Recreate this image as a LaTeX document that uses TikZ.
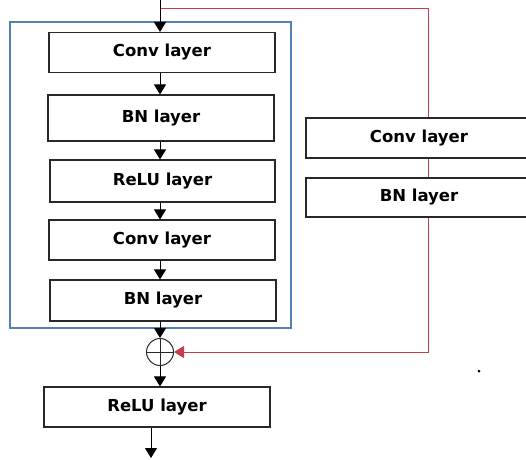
\documentclass[tikz,border=0pt]{standalone}
\usepackage{fontspec}
\setmainfont{DejaVu Sans}
\usetikzlibrary{arrows.meta}
\definecolor{frameblue}{RGB}{84,128,186}
\definecolor{skipred}{RGB}{196,62,74}
\definecolor{boxline}{RGB}{40,40,40}
\tikzset{
  layerbox/.style={draw=boxline, line width=1.1pt, fill=white, minimum height=40pt,
    minimum width=226pt, inner sep=0pt, font=\bfseries\fontsize{16.5}{18}\selectfont},
  tip/.style={-{Triangle[length=10pt,width=12pt]}},
  flow/.style={line width=1pt, tip},
  skip/.style={draw=skipred, line width=1pt},
}
\begin{document}
\begin{tikzpicture}[x=1pt,y=-1pt]
\useasboundingbox (0,0) rectangle (526,459);

% residual block frame
\draw[frameblue, line width=1.4pt] (10,22) rectangle (291,328);

% shortcut path corners
\coordinate (tap) at (160,8);
\coordinate (tr) at (428,8);
\coordinate (br) at (428,352);

% side branch layers
\node[layerbox] (sconv) at (419,138) {Conv layer};
\node[layerbox, minimum height=39pt] (sbn) at (419,197.5) {BN layer};

% main branch layers
\node[layerbox] (c1) at (162,52.5) {Conv layer};
\node[layerbox, minimum height=46pt] (b1) at (161,118) {BN layer};
\node[layerbox, minimum height=42pt, minimum width=225pt] (r1) at (162.5,181) {ReLU layer};
\node[layerbox] (c2) at (162,240) {Conv layer};
\node[layerbox, minimum height=41pt] (b2) at (163,300.5) {BN layer};

% addition node
\node[draw=boxline, line width=1pt, circle, minimum size=27pt, inner sep=0pt] (add) at (160,352) {};
\draw[boxline, line width=1pt] (add.north) -- (add.south) (add.west) -- (add.east);

% output activation
\node[layerbox] (r2) at (157,407) {ReLU layer};
\coordinate (in) at (160,0);
\coordinate (outx) at (151,0);
\coordinate (out) at (151,458);

% shortcut connection, passing behind the side layers
\draw[skip] (tap) -- (tr) -- (tr |- sconv.north);
\draw[skip] (tr |- sconv.south) -- (tr |- sbn.north);
\draw[skip, tip] (tr |- sbn.south) -- (br) -- (add.east);

% main flow arrows, all on one vertical axis
\draw[flow] (in) -- (in |- c1.north);
\draw[flow] (in |- c1.south) -- (in |- b1.north);
\draw[flow] (in |- b1.south) -- (in |- r1.north);
\draw[flow] (in |- r1.south) -- (in |- c2.north);
\draw[flow] (in |- c2.south) -- (in |- b2.north);
\draw[flow] (in |- b2.south) -- (add.north);
\draw[flow] (add.south) -- (in |- r2.north);
\draw[flow] (outx |- r2.south) -- (out);

% stray mark
\fill[black] (479,371) circle (1.5pt);
\end{tikzpicture}
\end{document}
